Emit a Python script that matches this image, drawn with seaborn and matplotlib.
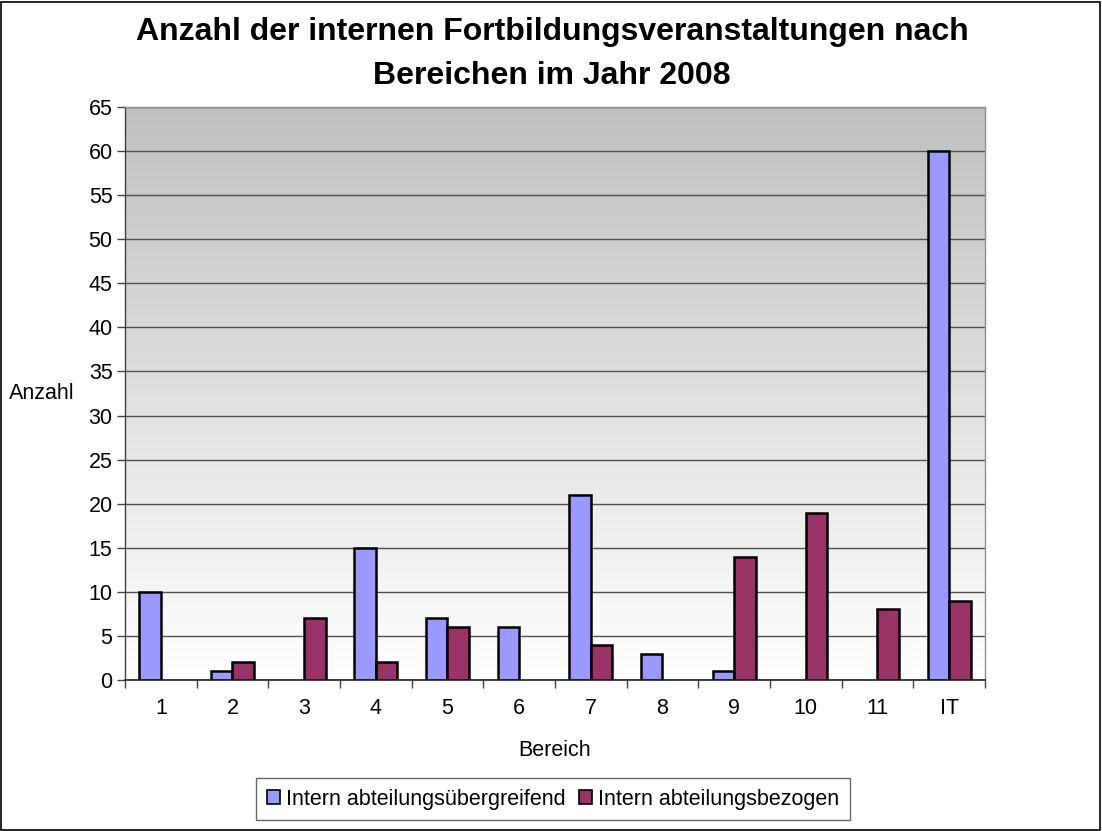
import numpy as np
import pandas as pd
import matplotlib
matplotlib.use("Agg")
import matplotlib.pyplot as plt
import seaborn as sns
from matplotlib.patches import Patch, Rectangle

categories = ["1", "2", "3", "4", "5", "6", "7", "8", "9", "10", "11", "IT"]
uebergreifend = [10, 1, 0, 15, 7, 6, 21, 3, 1, 0, 0, 60]
bezogen = [0, 2, 7, 2, 6, 0, 4, 0, 14, 19, 8, 9]
series_names = ["Intern abteilungsübergreifend", "Intern abteilungsbezogen"]
colors = ["#9999FF", "#993366"]
yticks = list(range(0, 70, 5))

df = pd.DataFrame({
    "Bereich": categories * 2,
    "Anzahl": uebergreifend + bezogen,
    "Serie": [series_names[0]] * len(categories) + [series_names[1]] * len(categories),
})

sns.set_style("white")
plt.rcParams["font.family"] = ["Liberation Sans", "DejaVu Sans"]
plt.rcParams["text.color"] = "black"
plt.rcParams["xtick.color"] = "black"
plt.rcParams["ytick.color"] = "black"
plt.rcParams["xtick.labelcolor"] = "black"
plt.rcParams["ytick.labelcolor"] = "black"

fig = plt.figure(figsize=(11.02, 8.31), dpi=100)
fig.patch.set_facecolor("white")
fig.add_artist(Rectangle((0.001, 0.001), 0.997, 0.997, transform=fig.transFigure,
                         fill=False, edgecolor="black", linewidth=1.2))

ax = fig.add_axes([125 / 1102, 1 - 680 / 831, 860 / 1102, 573 / 831])

sns.barplot(data=df, x="Bereich", y="Anzahl", hue="Serie", order=categories,
            hue_order=series_names, palette=colors, width=0.6, gap=0,
            edgecolor="black", linewidth=1.8, saturation=1, legend=False, ax=ax)

for p in ax.patches:
    if p.get_height() == 0:
        p.set_linewidth(0)

# gradient background
grad = np.linspace(0, 1, 256).reshape(-1, 1)
cmap = matplotlib.colors.LinearSegmentedColormap.from_list("g", ["#C0C0C0", "#FFFFFF"])
ax.imshow(grad, extent=[0, 1, 0, 1], transform=ax.transAxes, aspect="auto",
          cmap=cmap, zorder=0, origin="upper")
ax.set_xlim(-0.5, len(categories) - 0.5)
ax.set_ylim(0, 65)

ax.set_yticks(yticks)
ax.yaxis.grid(True, color="#505050", linewidth=1)
ax.set_axisbelow(True)
for gl in ax.get_ygridlines():
    gl.set_zorder(0.5)

ax.tick_params(axis="y", which="major", length=6, width=1, color="#404040",
               labelsize=15.5, pad=3, direction="out", left=True)
ax.set_xticks(range(len(categories)))
ax.set_xticklabels(categories)
ax.tick_params(axis="x", which="major", length=0, labelsize=15.5, pad=13)
ax.set_xticks(np.arange(-0.5, len(categories), 1), minor=True)
ax.tick_params(axis="x", which="minor", length=6, width=1, color="#404040",
               direction="out", bottom=True)

for s in ["top", "right"]:
    ax.spines[s].set_color("#909090")
    ax.spines[s].set_linewidth(1)
ax.spines["left"].set_color("#404040")
ax.spines["bottom"].set_color("#202020")
ax.spines["left"].set_linewidth(1)
ax.spines["bottom"].set_linewidth(1.2)

ax.set_xlabel("")
ax.set_ylabel("")
fig.text(9 / 1102, 1 - 393 / 831, "Anzahl", fontsize=15.5, ha="left", va="center")
fig.text(555 / 1102, 1 - 751 / 831, "Bereich", fontsize=15.5, ha="center", va="center")

fig.text(552 / 1102, 1 - 54 / 831,
         "Anzahl der internen Fortbildungsveranstaltungen nach\nBereichen im Jahr 2008",
         fontsize=23, fontweight="bold", ha="center", va="center", linespacing=1.6)

handles = [Patch(facecolor=c, edgecolor="black", linewidth=1.2) for c in colors]
leg = fig.legend(handles, series_names, loc="center", ncol=2,
                 bbox_to_anchor=(553 / 1102, 1 - 799 / 831), fontsize=15.5,
                 frameon=True, fancybox=False, edgecolor="#404040",
                 handlelength=0.6, handleheight=0.6, handletextpad=0.3,
                 columnspacing=0.6, borderpad=0.5, borderaxespad=0)
leg.get_frame().set_linewidth(1)

fig.savefig("out.png", dpi=100)
